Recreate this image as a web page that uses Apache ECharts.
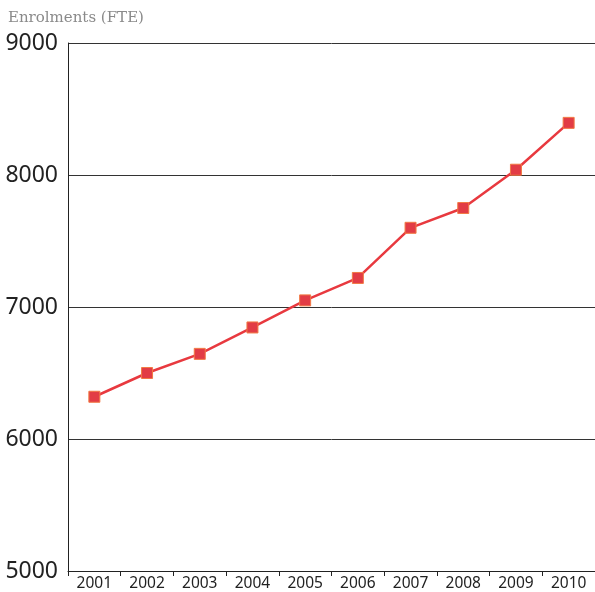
<!DOCTYPE html>
<html><head><meta charset="utf-8">
<script src="https://cdn.jsdelivr.net/npm/echarts@6/dist/echarts.min.js"></script>
<style>html,body{margin:0;padding:0;background:#fff}#c{width:595px;height:592px}</style>
</head><body><div id="c"></div>
<script>
var years = ['2001','2002','2003','2004','2005','2006','2007','2008','2009','2010'];
var enrolments = [6320, 6500, 6645, 6845, 7050, 7220, 7600, 7750, 8040, 8395];
var yTicks = [5000, 6000, 7000, 8000, 9000];
var chart = echarts.init(document.getElementById('c'));
chart.setOption({
  animation: false,
  title: {
    text: 'Enrolments (FTE)', left: 3, top: 6,
    textStyle: {fontFamily: 'DejaVu Serif', fontSize: 15, fontWeight: 'normal', color: '#8a8a8a'}
  },
  grid: {left: 68, right: 0, top: 43, bottom: 21, containLabel: false},
  xAxis: {
    type: 'category', data: years, boundaryGap: true,
    axisLine: {show: true, lineStyle: {color: '#222', width: 1}},
    axisTick: {show: true, length: 5, lineStyle: {color: '#222'}},
    axisLabel: {fontFamily: 'Noto Sans', fontSize: 15.5, color: '#222', margin: 5}
  },
  yAxis: {
    type: 'value', min: yTicks[0], max: yTicks[yTicks.length - 1], interval: 1000,
    axisLine: {show: true, lineStyle: {color: '#222', width: 1}},
    axisTick: {show: false},
    splitLine: {show: true, lineStyle: {color: '#333', width: 1}},
    axisLabel: {fontFamily: 'Noto Sans', fontSize: 23, color: '#222', margin: 10,
      formatter: function (v) { return String(v); }}
  },
  series: [{
    type: 'line', data: enrolments,
    symbol: 'rect', symbolSize: 11,
    lineStyle: {color: '#e8393f', width: 2.5},
    itemStyle: {color: '#e23c45', borderColor: '#f27a45', borderWidth: 1}
  }]
});
</script></body></html>
